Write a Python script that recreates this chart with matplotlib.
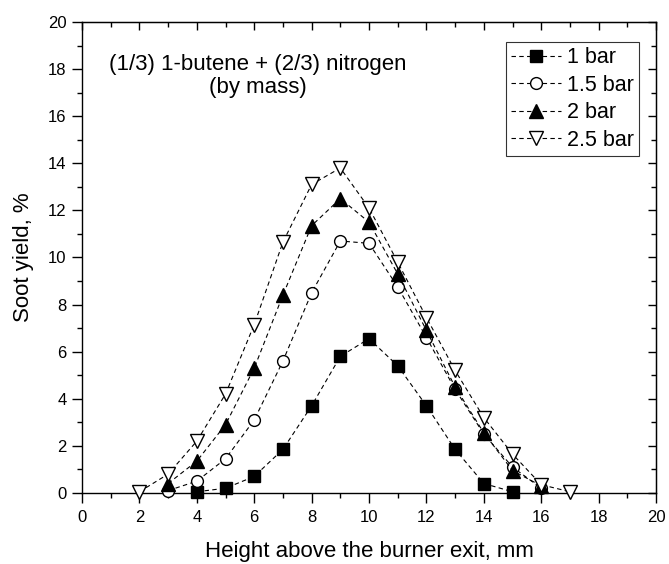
import matplotlib.pyplot as plt
from matplotlib.ticker import MultipleLocator

plt.rcParams['font.family'] = ['Liberation Sans', 'DejaVu Sans']

# data
x_1bar = [4, 5, 6, 7, 8, 9, 10, 11, 12, 13, 14, 15]
y_1bar = [0.05, 0.2, 0.7, 1.85, 3.7, 5.8, 6.55, 5.4, 3.7, 1.85, 0.4, 0.05]

x_15bar = [3, 4, 5, 6, 7, 8, 9, 10, 11, 12, 13, 14, 15, 16]
y_15bar = [0.1, 0.5, 1.45, 3.1, 5.6, 8.5, 10.7, 10.6, 8.75, 6.6, 4.4, 2.5, 1.1, 0.2]

x_2bar = [3, 4, 5, 6, 7, 8, 9, 10, 11, 12, 13, 14, 15, 16]
y_2bar = [0.4, 1.35, 2.9, 5.3, 8.4, 11.35, 12.5, 11.5, 9.3, 6.9, 4.5, 2.55, 0.95, 0.3]

x_25bar = [2, 3, 4, 5, 6, 7, 8, 9, 10, 11, 12, 13, 14, 15, 16, 17]
y_25bar = [0.05, 0.8, 2.2, 4.2, 7.15, 10.65, 13.1, 13.8, 12.1, 9.8, 7.45, 5.2, 3.2, 1.65, 0.35, 0.05]

fig = plt.figure(figsize=(6.69, 5.64), dpi=100)
ax = fig.add_axes([0.1226, 0.126, 0.858, 0.835])

kw = dict(color='black', linestyle='--', linewidth=0.8, dashes=(4, 3),
          markeredgewidth=1.0, clip_on=False, zorder=3)
ax.plot(x_1bar, y_1bar, marker='s', markerfacecolor='black', markersize=8.5, label='1 bar', **kw)
ax.plot(x_15bar, y_15bar, marker='o', markerfacecolor='white', markersize=8.5, label='1.5 bar', **kw)
ax.plot(x_2bar, y_2bar, marker='^', markerfacecolor='black', markersize=10, label='2 bar', **kw)
ax.plot(x_25bar, y_25bar, marker='v', markerfacecolor='white', markersize=10.5, label='2.5 bar', **kw)

ax.set_xlim(0, 20)
ax.set_ylim(0, 20)
for axis in (ax.xaxis, ax.yaxis):
    axis.set_major_locator(MultipleLocator(2))
    axis.set_minor_locator(MultipleLocator(1))
ax.tick_params(which='both', direction='out', labelsize=12, width=1.0)
ax.tick_params(which='major', length=7, pad=4)
ax.tick_params(which='minor', length=3.5)
ax.tick_params(axis='x', which='major', pad=5)

# top / right ticks point inward, no labels
top = ax.secondary_xaxis('top')
top.xaxis.set_major_locator(MultipleLocator(2))
top.xaxis.set_minor_locator(MultipleLocator(1))
right = ax.secondary_yaxis('right')
right.yaxis.set_major_locator(MultipleLocator(2))
right.yaxis.set_minor_locator(MultipleLocator(1))
for sec in (top, right):
    sec.tick_params(which='both', direction='in', width=1.0, labeltop=False, labelright=False)
    sec.tick_params(which='major', length=6)
    sec.tick_params(which='minor', length=3.5)
for s in ax.spines.values():
    s.set_linewidth(1.0)

ax.set_xlabel('Height above the burner exit, mm', fontsize=16, labelpad=12)
ax.set_ylabel('Soot yield, %', fontsize=16, labelpad=10)

ax.text(0.307, 0.885, '(1/3) 1-butene + (2/3) nitrogen\n(by mass)', transform=ax.transAxes,
        ha='center', va='center', fontsize=16, linespacing=1.15)

leg = ax.legend(loc='upper right', bbox_to_anchor=(0.971, 0.958), fontsize=15.5,
                frameon=True, fancybox=False, edgecolor='black', borderpad=0.25,
                handlelength=2.3, handletextpad=0.3, labelspacing=0.3, borderaxespad=0)
leg.get_frame().set_linewidth(0.8)

fig.savefig('out.png', dpi=100)
